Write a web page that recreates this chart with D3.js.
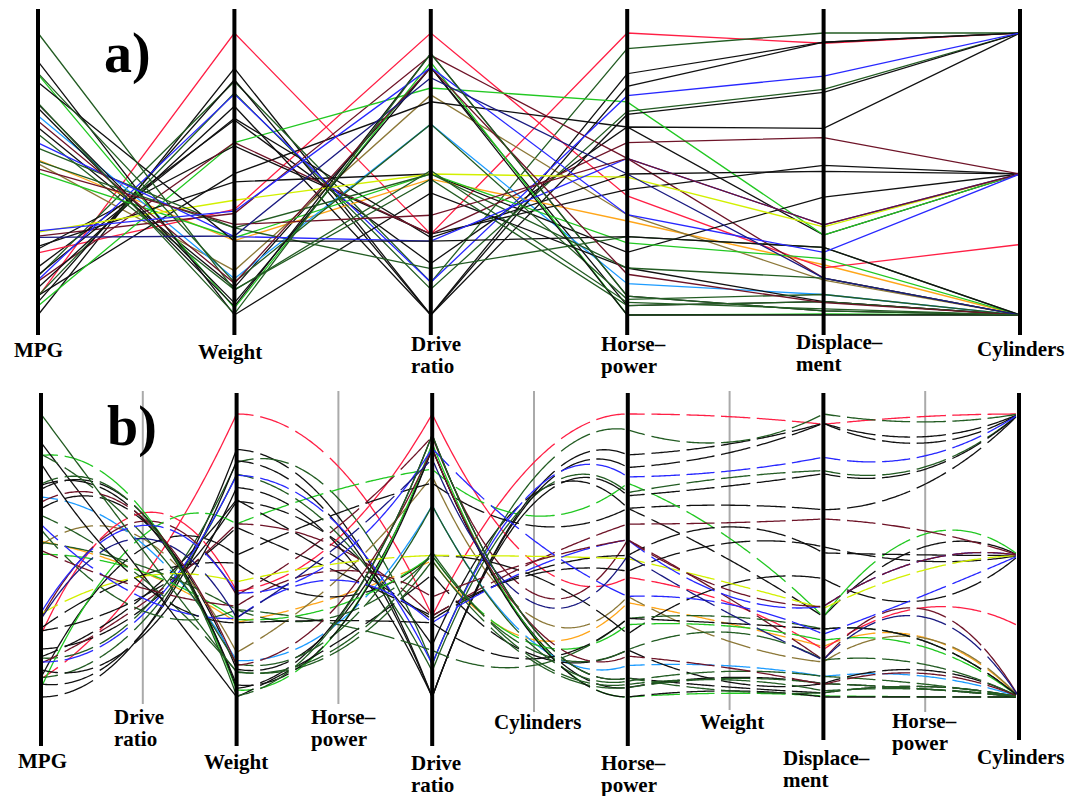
<!DOCTYPE html>
<html>
<head>
<meta charset="utf-8">
<script src="https://cdn.jsdelivr.net/npm/d3@7"></script>
<style>
  body { margin: 0; background: #fff; }
  text { font-family: "Liberation Serif", "Times New Roman", serif; font-weight: bold; fill: #000; }
</style>
</head>
<body>
<svg id="chart" width="1070" height="796"></svg>
<script>
// 38 cars, 1978-79 models
const cars = ["Buick Estate Wagon","Ford Country Squire","Chevy Malibu Wagon","Chrysler LeBaron Wagon","Chevette",
  "Toyota Corona","Datsun 510","Dodge Omni","Audi 5000","Volvo 240 GL","Saab 99 GLE","Peugeot 694 SL",
  "Buick Century","Mercury Zephyr","Dodge Aspen","AMC Concord D/L","Chevy Caprice","Ford LTD",
  "Mercury Grand Marquis","Dodge St Regis","Ford Mustang 4","Ford Mustang Ghia","Mazda GLC","Dodge Colt",
  "AMC Spirit","VW Scirocco","Honda Accord LX","Buick Skylark","Chevy Citation","Olds Omega",
  "Pontiac Phoenix","Plymouth Horizon","Datsun 210","Fiat Strada","VW Dasher","Datsun 810","BMW 320i","VW Rabbit"];
const mpg = [16.9,15.5,19.2,18.5,30.0,27.5,27.2,30.9,20.3,17.0,21.6,16.2,20.6,20.8,18.6,18.1,17.0,17.6,16.5,18.2,
  26.5,21.9,34.1,35.1,27.4,31.5,29.5,28.4,28.8,26.8,33.5,34.2,31.8,37.3,30.5,22.0,21.5,31.9];
const weight = [4.360,4.054,3.605,3.940,2.155,2.560,2.300,2.230,2.830,3.140,2.795,3.410,3.380,3.070,3.620,3.410,
  3.840,3.725,3.955,3.830,2.585,2.910,1.975,1.915,2.670,1.990,2.135,2.670,2.595,2.700,2.556,2.200,2.020,2.130,
  2.190,2.815,2.600,1.925];
const driveRatio = [2.73,2.26,2.56,2.45,3.70,3.05,3.54,3.37,3.90,3.50,3.77,3.58,2.73,3.08,2.71,2.73,2.41,2.26,
  2.26,2.45,3.08,3.08,3.73,2.97,3.08,3.78,3.05,2.53,2.69,2.84,2.69,3.37,3.70,3.10,3.70,3.70,3.64,3.78];
const horsepower = [155,142,125,150,68,95,97,75,103,125,115,133,105,85,110,120,130,129,138,135,88,109,65,80,80,
  71,68,90,115,115,90,70,65,69,78,97,110,71];
const displacement = [350,351,267,360,98,134,119,105,131,163,121,163,231,200,225,258,305,302,351,318,140,171,
  86,98,121,89,98,151,173,173,151,105,85,91,97,146,121,89];
const cylinders = [8,8,8,8,4,4,4,4,5,6,4,6,6,6,6,6,8,8,8,8,4,6,4,4,4,4,4,4,6,6,4,4,4,4,4,6,4,4];

// colour of each car's line (same order as cars)
const lineColor = ["#ff1f45","#111","#111","#235c23","#111","#ffa61a","#8c7838","#1e9cff","#ff1f45","#111",
  "#6e1428","#22c822","#111","#111","#111","#6e1428","#235c23","#111","#111","#2828ff","#22c822","#d2f000",
  "#22c822","#111","#235c23","#111","#235c23","#235c23","#2828ff","#6e1428","#111","#235c23","#111","#235c23",
  "#6e1428","#2828ff","#1a1a80","#235c23"];

const vars = { mpg, weight, drive: driveRatio, hp: horsepower, disp: displacement, cyl: cylinders };
const names = { mpg: ["MPG"], weight: ["Weight"], drive: ["Drive", "ratio"], hp: ["Horse\u2013", "power"],
  disp: ["Displace\u2013", "ment"], cyl: ["Cylinders"] };

const svg = d3.select("#chart");

function makeScales(top, bottom) {
  const s = {};
  for (const k in vars) s[k] = d3.scaleLinear().domain(d3.extent(vars[k])).range([bottom, top]);
  return s;
}

function label(x, y, lines) {
  const t = svg.append("text").attr("x", x).attr("y", y).style("font-size", "21px");
  lines.forEach((l, i) => t.append("tspan").attr("x", x).attr("dy", i ? 22 : 0).text(l));
}

// ---------- a) straight parallel coordinates
const orderA = ["mpg", "weight", "drive", "hp", "disp", "cyl"];
const xA = d3.scalePoint().domain(d3.range(orderA.length)).range([38, 1020]);
const yA = makeScales(33, 315);

const gA = svg.append("g");
gA.selectAll("path")
  .data(cars.map((c, i) => i))
  .join("path")
    .attr("fill", "none")
    .attr("stroke", i => lineColor[i])
    .attr("stroke-width", 1.3)
    .attr("d", i => d3.line()(orderA.map((k, j) => [xA(j), yA[k](vars[k][i])])));

gA.selectAll("line")
  .data(orderA)
  .join("line")
    .attr("x1", (k, j) => xA(j)).attr("x2", (k, j) => xA(j))
    .attr("y1", 9).attr("y2", 335)
    .attr("stroke", "#000").attr("stroke-width", 4);

const labelA = [[14, 357], [198, 359], [411, 351], [601, 351], [796, 349], [977, 356]];
orderA.forEach((k, j) => label(labelA[j][0], labelA[j][1], names[k]));

svg.append("text").attr("x", 104).attr("y", 72).style("font-size", "56px").text("a)");

// ---------- b) smooth version: each segment is a quadratic curve whose
// control point is the value on the grey in-between axis
const orderB = ["mpg", "drive", "weight", "hp", "drive", "cyl", "hp", "weight", "disp", "hp", "cyl"];
const blackB = orderB.filter((k, j) => j % 2 === 0);
const greyB = orderB.filter((k, j) => j % 2 === 1);
const xB = d3.scalePoint().domain(d3.range(blackB.length)).range([41, 1019]);
const xG = j => (xB(j) + xB(j + 1)) / 2 + 4;
const yB = makeScales(414, 697);

// sample the curves; flat stretches get the small periodic gaps of the original plot
const gapPeriod = 35, gapLen = 5;
function smoothPoints(i) {
  const pts = [];
  greyB.forEach((g, j) => {
    const a = blackB[j], b = blackB[j + 1];
    const x0 = xB(j), x1 = xG(j), x2 = xB(j + 1);
    const y0 = yB[a](vars[a][i]), y1 = yB[g](vars[g][i]), y2 = yB[b](vars[b][i]);
    const n = 120;
    for (let s = (j ? 1 : 0); s <= n; s++) {
      const t = s / n, u = 1 - t;
      const x = u * u * x0 + 2 * u * t * x1 + t * t * x2;
      const y = u * u * y0 + 2 * u * t * y1 + t * t * y2;
      const dx = 2 * u * (x1 - x0) + 2 * t * (x2 - x1);
      const dy = 2 * u * (y1 - y0) + 2 * t * (y2 - y1);
      const flat = Math.abs(dy) < 1.1 * Math.abs(dx);
      const gap = flat && ((x - x0 + 12) % gapPeriod) > gapPeriod - gapLen;
      pts.push({ x, y, on: !gap });
    }
  });
  return pts;
}

const gB = svg.append("g");
gB.selectAll("line.grey")
  .data(greyB)
  .join("line")
    .attr("class", "grey")
    .attr("x1", (k, j) => xG(j)).attr("x2", (k, j) => xG(j))
    .attr("y1", 391).attr("y2", (k, j) => [704, 704, 712, 710, 712][j])
    .attr("stroke", "#aaa").attr("stroke-width", 2);

const curve = d3.line().x(p => p.x).y(p => p.y).defined(p => p.on);
gB.selectAll("path")
  .data(cars.map((c, i) => i))
  .join("path")
    .attr("fill", "none")
    .attr("stroke", i => lineColor[i])
    .attr("stroke-width", 1.3)
    .attr("d", i => curve(smoothPoints(i)));

gB.selectAll("line.black")
  .data(blackB)
  .join("line")
    .attr("class", "black")
    .attr("x1", (k, j) => xB(j)).attr("x2", (k, j) => xB(j))
    .attr("y1", 393).attr("y2", (k, j) => j < 4 ? 746 : 740)
    .attr("stroke", "#000").attr("stroke-width", 4);

const labelGrey = [[114, 724], [311, 724], [494, 729], [700, 729], [892, 728]];
greyB.forEach((k, j) => label(labelGrey[j][0], labelGrey[j][1], names[k]));
const labelB = [[18, 768], [204, 769], [411, 770], [601, 770], [783, 765], [977, 764]];
blackB.forEach((k, j) => label(labelB[j][0], labelB[j][1], names[k]));

svg.append("text").attr("x", 107).attr("y", 445).style("font-size", "56px").text("b)");
</script>
</body>
</html>
